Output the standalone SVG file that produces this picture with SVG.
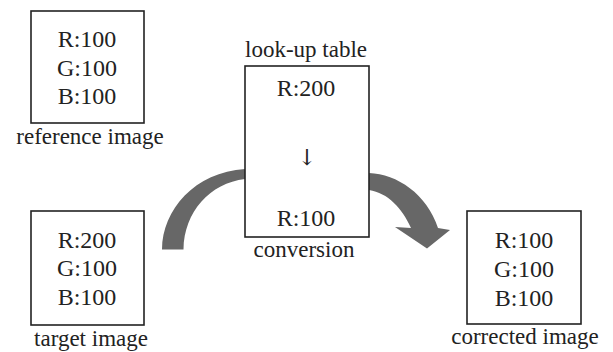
<svg xmlns="http://www.w3.org/2000/svg" width="613" height="352" viewBox="0 0 613 352">
<style>
.box{fill:#fff;stroke:#222;stroke-width:1.6}
.t{font-family:'Liberation Serif','Times New Roman','DejaVu Serif',serif;font-size:24px;fill:#222;text-anchor:middle}
.l{font-family:'Liberation Serif','Times New Roman','DejaVu Serif',serif;font-size:23px;fill:#222;text-anchor:middle}
.a{font-family:'DejaVu Serif','Liberation Serif',serif;font-size:22px;fill:#222;text-anchor:middle}
.arc{fill:#676767;stroke:none}
</style>
<rect width="613" height="352" fill="#fff"/>
<g id="connectors">
<path class="arc" d="M 162 249.5 C 162 210 195 172 245 169 L 245 179 C 210 183 184 212 183.5 249.5 Z"/>
<path class="arc" d="M 369 173 C 397 174 427 194 438 228 L 450 230 L 427 248.5 L 395 227 L 411 228 C 402 208 388 193 369 190 Z"/>
</g>
<g id="reference">
<rect class="box" x="31" y="11" width="113" height="112"/>
<text class="t" x="87" y="47">R:100</text>
<text class="t" x="87" y="75.5">G:100</text>
<text class="t" x="87" y="104">B:100</text>
<text class="l" x="90" y="144">reference image</text>
</g>
<g id="target">
<rect class="box" x="31" y="211" width="113" height="114"/>
<text class="t" x="87" y="247.5">R:200</text>
<text class="t" x="87" y="276">G:100</text>
<text class="t" x="87" y="304.5">B:100</text>
<text class="l" x="91" y="345.5">target image</text>
</g>
<g id="lut">
<text class="l" x="306" y="56.5">look-up table</text>
<rect class="box" x="245" y="66" width="124" height="171"/>
<text class="t" x="306" y="95.5">R:200</text>
<text class="a" x="307" y="165">↓</text>
<text class="t" x="306" y="226">R:100</text>
<text class="l" x="304" y="256.5">conversion</text>
</g>
<g id="corrected">
<rect class="box" x="467" y="211" width="114" height="113"/>
<text class="t" x="524" y="248">R:100</text>
<text class="t" x="524" y="277">G:100</text>
<text class="t" x="524" y="305.5">B:100</text>
<text class="l" x="525" y="343.5">corrected image</text>
</g>
</svg>
